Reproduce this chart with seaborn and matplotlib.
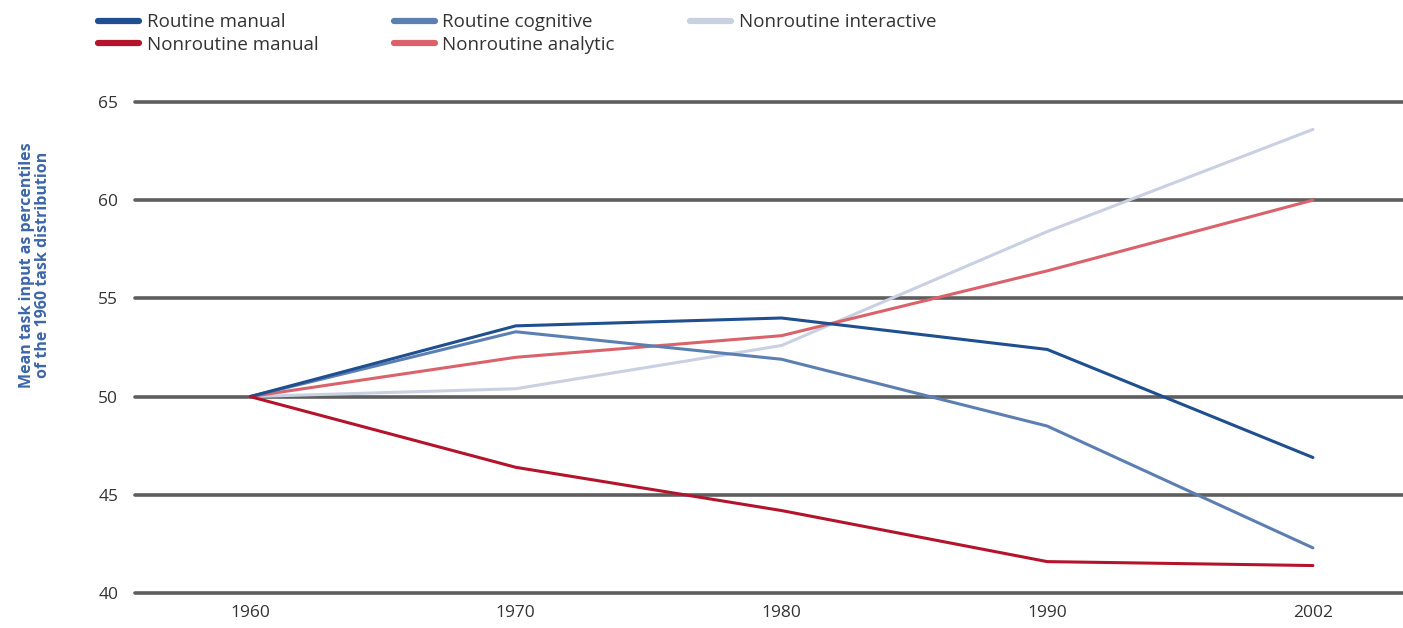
import matplotlib
matplotlib.use("Agg")
import matplotlib.pyplot as plt
import seaborn as sns
import pandas as pd
from matplotlib.lines import Line2D

years = ["1960", "1970", "1980", "1990", "2002"]
routine_manual = [50.0, 53.6, 54.0, 52.4, 46.9]
routine_cognitive = [50.0, 53.3, 51.9, 48.5, 42.3]
nonroutine_interactive = [50.0, 50.4, 52.6, 58.4, 63.6]
nonroutine_manual = [50.0, 46.4, 44.2, 41.6, 41.4]
nonroutine_analytic = [50.0, 52.0, 53.1, 56.4, 60.0]
y_ticks = [40, 45, 50, 55, 60, 65]

series = {
    "Routine manual": routine_manual,
    "Routine cognitive": routine_cognitive,
    "Nonroutine interactive": nonroutine_interactive,
    "Nonroutine manual": nonroutine_manual,
    "Nonroutine analytic": nonroutine_analytic,
}
colors = {
    "Routine manual": "#1f4f8f",
    "Routine cognitive": "#5c7fb2",
    "Nonroutine interactive": "#c8d0e2",
    "Nonroutine manual": "#b3142b",
    "Nonroutine analytic": "#d9626b",
}
draw_order = ["Nonroutine interactive", "Nonroutine analytic", "Routine cognitive",
              "Routine manual", "Nonroutine manual"]

rows = []
for name, vals in series.items():
    for yr, v in zip(years, vals):
        rows.append({"year": yr, "value": v, "series": name})
df = pd.DataFrame(rows)

sns.set_theme(style="white")
plt.rcParams["font.family"] = ["Open Sans", "DejaVu Sans"]

fig = plt.figure(figsize=(14.03, 6.28), dpi=100)
ax = fig.add_axes([0.0962, 0.0494, 0.9038, 0.7946])

for yv in y_ticks:
    ax.axhline(yv, color="#5e5e5e", lw=2.6, zorder=0, clip_on=False)

sns.lineplot(data=df, x="year", y="value", hue="series", hue_order=draw_order,
             palette=colors, linewidth=2.2, ax=ax, legend=False, sort=False)

ax.set_xlim(-0.433, 4.339)
ax.set_ylim(39.8, 65.2)
ax.set_yticks(y_ticks)
ax.set_yticklabels([str(t) for t in y_ticks])
ax.set_xticks(range(len(years)))
ax.set_xticklabels(years)
ax.tick_params(axis="both", labelsize=12.5, colors="#333333", length=0, pad=6)
ax.tick_params(axis="y", pad=12)
for s in ax.spines.values():
    s.set_visible(False)
ax.set_xlabel("")
ax.set_ylabel("Mean task input as percentiles\nof the 1960 task distribution",
              color="#3d66aa", fontsize=11.5, fontweight="bold", linespacing=1.0)
ax.yaxis.set_label_coords(-0.066, 0.665)

legend_order = ["Routine manual", "Nonroutine manual", "Routine cognitive",
                "Nonroutine analytic", "Nonroutine interactive"]
handles = [Line2D([0], [0], color=colors[n], lw=4.5) for n in legend_order]
fig.legend(handles, legend_order, loc="upper left", bbox_to_anchor=(0.058, 1.006),
           ncol=3, frameon=False, fontsize=13.5, handlelength=2.2, handletextpad=0.4,
           columnspacing=4.0, labelspacing=0.25, labelcolor="#333333")

fig.savefig("out.png", dpi=100)
